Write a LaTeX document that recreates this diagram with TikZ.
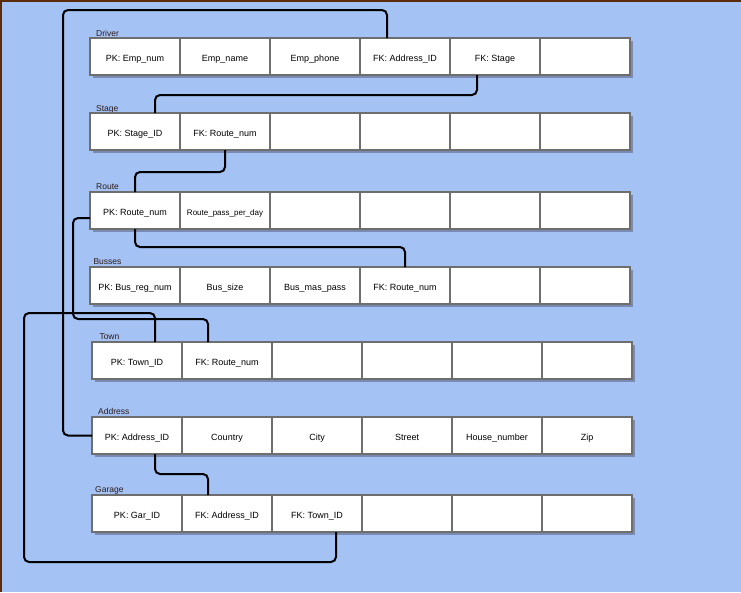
\documentclass[tikz,border=0pt]{standalone}
\usepackage{fontspec}
\setmainfont{Liberation Sans}
\usetikzlibrary{positioning,calc,shadows}
\definecolor{bgblue}{HTML}{A4C2F4}
\definecolor{shadowblue}{HTML}{7A8BB3}
\definecolor{cellgray}{HTML}{6E6E6E}
\definecolor{framebrown}{HTML}{5B2C0A}
\definecolor{labeldark}{HTML}{2B1B1B}
\tikzset{
  cell/.style={draw=cellgray, line width=1.2pt, fill=white,
    minimum width=90pt, minimum height=37pt, inner sep=0pt, outer sep=0pt,
    text height=12pt, text depth=2pt,
    font=\fontsize{9}{11}\selectfont,
    drop shadow={shadow xshift=3pt, shadow yshift=-3pt, fill=shadowblue, opacity=1}},
  tablename/.style={anchor=base west, inner sep=0pt, font=\fontsize{8.5}{10}\selectfont, text=labeldark},
  fkline/.style={line width=2pt, rounded corners=5pt}
}

\begin{document}
\begin{tikzpicture}[x=1pt,y=-1pt]
  % Background and frame
  \fill[bgblue] (0,0) rectangle (741,592);
  \useasboundingbox (0,0) rectangle (741,592);
  \draw[framebrown,line width=1.5pt] (0.75,592) -- (0.75,0.75) -- (741,0.75);

  % Driver
  \node[tablename] (drvlbl) at (96,36) {Driver};
  \node[cell] (drv1) at (135,56.5) {PK: Emp\_num};
  \node[cell,right=0pt of drv1] (drv2) {Emp\_name};
  \node[cell,right=0pt of drv2] (drv3) {Emp\_phone};
  \node[cell,right=0pt of drv3] (drv4) {FK: Address\_ID};
  \node[cell,right=0pt of drv4] (drv5) {FK: Stage};
  \node[cell,right=0pt of drv5] (drv6) {};

  % Stage
  \node[tablename] (stglbl) at (96,111) {Stage};
  \node[cell] (stg1) at (135,131.5) {PK: Stage\_ID};
  \node[cell,right=0pt of stg1] (stg2) {FK: Route\_num};
  \node[cell,right=0pt of stg2] (stg3) {};
  \node[cell,right=0pt of stg3] (stg4) {};
  \node[cell,right=0pt of stg4] (stg5) {};
  \node[cell,right=0pt of stg5] (stg6) {};

  % Route
  \node[tablename] (rtelbl) at (96,189.3) {Route};
  \node[cell] (rte1) at (135,210.5) {PK: Route\_num};
  \node[cell,right=0pt of rte1,font=\fontsize{8}{10}\selectfont] (rte2) {Route\_pass\_per\_day};
  \node[cell,right=0pt of rte2] (rte3) {};
  \node[cell,right=0pt of rte3] (rte4) {};
  \node[cell,right=0pt of rte4] (rte5) {};
  \node[cell,right=0pt of rte5] (rte6) {};

  % Busses
  \node[tablename] (buslbl) at (93.3,264.3) {Busses};
  \node[cell] (bus1) at (135,285.5) {PK: Bus\_reg\_num};
  \node[cell,right=0pt of bus1] (bus2) {Bus\_size};
  \node[cell,right=0pt of bus2] (bus3) {Bus\_mas\_pass};
  \node[cell,right=0pt of bus3] (bus4) {FK: Route\_num};
  \node[cell,right=0pt of bus4] (bus5) {};
  \node[cell,right=0pt of bus5] (bus6) {};

  % Town
  \node[tablename] (twnlbl) at (99.3,339.3) {Town};
  \node[cell] (twn1) at (137,360.5) {PK: Town\_ID};
  \node[cell,right=0pt of twn1] (twn2) {FK: Route\_num};
  \node[cell,right=0pt of twn2] (twn3) {};
  \node[cell,right=0pt of twn3] (twn4) {};
  \node[cell,right=0pt of twn4] (twn5) {};
  \node[cell,right=0pt of twn5] (twn6) {};

  % Address
  \node[tablename] (adrlbl) at (98,414) {Address};
  \node[cell] (adr1) at (137,435.5) {PK: Address\_ID};
  \node[cell,right=0pt of adr1] (adr2) {Country};
  \node[cell,right=0pt of adr2] (adr3) {City};
  \node[cell,right=0pt of adr3] (adr4) {Street};
  \node[cell,right=0pt of adr4] (adr5) {House\_number};
  \node[cell,right=0pt of adr5] (adr6) {Zip};

  % Garage
  \node[tablename] (garlbl) at (95,492.3) {Garage};
  \node[cell] (gar1) at (137,513.5) {PK: Gar\_ID};
  \node[cell,right=0pt of gar1] (gar2) {FK: Address\_ID};
  \node[cell,right=0pt of gar2] (gar3) {FK: Town\_ID};
  \node[cell,right=0pt of gar3] (gar4) {};
  \node[cell,right=0pt of gar4] (gar5) {};
  \node[cell,right=0pt of gar5] (gar6) {};

  % Lanes for the long links
  \coordinate (adrlane) at (63,10);
  \coordinate (rtelane) at (73,319);
  \coordinate (twnlane) at (24,313);
  \coordinate (garlane) at (24,562);

  % Foreign key links
  \draw[fkline] ($(drv4.north)+(-18,0)$) |- (adrlane) |- (adr1.west);
  \draw[fkline] ($(drv5.south)+(-18,0)$) -- ++(0,20) -| ($(stg1.north)+(20,0)$);
  \draw[fkline] (stg2.south) -- ++(0,22) -| (rte1.north);
  \draw[fkline] (rte1.south) -- ++(0,18) -| (bus4.north);
  \draw[fkline] ($(rte1.west)+(0,7.5)$) -| (rtelane) -| ($(twn2.north)+(-19,0)$);
  \draw[fkline] ($(twn1.north)+(18,0)$) |- (twnlane) -- (garlane) -| ($(gar3.south)+(19,0)$);
  \draw[fkline] ($(adr1.south)+(18,0)$) -- ++(0,20) -| ($(gar2.north)+(-19,0)$);
\end{tikzpicture}
\end{document}
